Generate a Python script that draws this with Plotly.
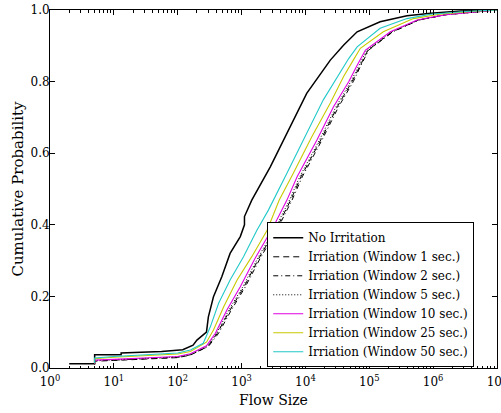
import plotly.graph_objects as go

# ---- data (flow size in bytes, cumulative probability) ----
size_none = [2, 5, 5, 13, 13, 56, 120, 174, 200, 282, 302, 363, 490, 661, 955, 1110, 1110,
             1445, 2818, 5129, 10471, 24547, 39811, 64565, 147911, 389045, 912011, 2691535, 10000000]
prob_none = [0.012, 0.012, 0.037, 0.037, 0.042, 0.046, 0.051, 0.064, 0.078, 0.100, 0.143, 0.199, 0.255,
             0.320, 0.367, 0.400, 0.423, 0.469, 0.562, 0.655, 0.767, 0.860, 0.902, 0.939, 0.967,
             0.984, 0.991, 0.997, 1.000]

size_w1 = [5, 5, 10, 32, 100, 158, 295, 417, 661, 1096, 1862, 3631, 4898, 5888, 8511, 17378, 31623,
           53703, 70795, 95499, 229087, 588844, 1584893, 5011872, 10000000]
prob_w1 = [0.010, 0.019, 0.021, 0.024, 0.029, 0.036, 0.060, 0.097, 0.162, 0.227, 0.306, 0.395, 0.441,
           0.469, 0.534, 0.637, 0.730, 0.800, 0.842, 0.888, 0.939, 0.972, 0.987, 0.996, 1.000]

size_w2 = [5, 5, 10, 32, 100, 158, 302, 437, 692, 1148, 1950, 3802, 5129, 6166, 8913, 18197, 33113,
           56234, 72444, 97724, 234423, 602560, 1622000, 5011872, 10000000]
prob_w2 = [0.011, 0.020, 0.022, 0.025, 0.030, 0.037, 0.060, 0.097, 0.162, 0.227, 0.306, 0.395, 0.441,
           0.469, 0.534, 0.637, 0.730, 0.800, 0.842, 0.888, 0.939, 0.972, 0.987, 0.996, 1.000]

size_w5 = [5, 5, 10, 32, 100, 158, 288, 407, 631, 1047, 1778, 3467, 4677, 5623, 8128, 16596, 30200,
           51286, 67608, 91201, 223872, 575440, 1584893, 5011872, 10000000]
prob_w5 = [0.011, 0.021, 0.023, 0.026, 0.031, 0.038, 0.062, 0.097, 0.162, 0.227, 0.306, 0.395, 0.441,
           0.469, 0.534, 0.637, 0.730, 0.800, 0.842, 0.888, 0.939, 0.972, 0.987, 0.996, 1.000]

size_w10 = [5, 5, 10, 32, 100, 158, 282, 389, 589, 955, 1622, 3162, 4266, 5129, 7413, 15136, 27542,
            47863, 63096, 87096, 213796, 562341, 1584893, 5011872, 10000000]
prob_w10 = [0.012, 0.022, 0.024, 0.027, 0.032, 0.040, 0.062, 0.097, 0.162, 0.227, 0.306, 0.395, 0.441,
            0.469, 0.534, 0.637, 0.730, 0.800, 0.842, 0.888, 0.939, 0.972, 0.987, 0.996, 1.000]

size_w25 = [5, 5, 10, 32, 100, 158, 282, 363, 525, 851, 1445, 2512, 3388, 3890, 6457, 12589, 24547,
            39811, 56234, 72444, 165959, 489779, 1258925, 3981072, 10000000]
prob_w25 = [0.013, 0.026, 0.030, 0.034, 0.039, 0.046, 0.072, 0.106, 0.171, 0.246, 0.311, 0.385, 0.441,
            0.469, 0.544, 0.646, 0.740, 0.815, 0.860, 0.893, 0.939, 0.976, 0.988, 0.996, 1.000]

size_w50 = [5, 5, 10, 32, 100, 158, 251, 324, 437, 661, 1072, 1738, 2630, 5129, 10471, 19055, 47863,
            64565, 147911, 389045, 912011, 3162278, 10000000]
prob_w50 = [0.014, 0.028, 0.032, 0.036, 0.042, 0.050, 0.069, 0.115, 0.181, 0.246, 0.311, 0.385, 0.441,
            0.544, 0.655, 0.749, 0.865, 0.897, 0.949, 0.976, 0.988, 0.996, 1.000]

names = ["No Irritation", "Irriation (Window 1 sec.)", "Irriation (Window 2 sec.)",
         "Irriation (Window 5 sec.)", "Irriation (Window 10 sec.)", "Irriation (Window 25 sec.)",
         "Irriation (Window 50 sec.)"]

x_tick_vals = [1, 10, 100, 1000, 10000, 100000, 1000000, 10000000]
x_tick_text = ["10<sup>0</sup>", "10<sup>1</sup>", "10<sup>2</sup>", "10<sup>3</sup>",
               "10<sup>4</sup>", "10<sup>5</sup>", "10<sup>6</sup>", "10<sup>7</sup>"]
y_tick_vals = [0, 0.2, 0.4, 0.6, 0.8, 1.0]
y_tick_text = ["0.0", "0.2", "0.4", "0.6", "0.8", "1.0"]

# ---- styles ----
styles = [
    dict(color="black", dash="solid", width=1.5),
    dict(color="black", dash="6px,4px", width=1.0),
    dict(color="black", dash="5px,3px,1px,3px", width=1.0),
    dict(color="black", dash="1px,2px", width=1.0),
    dict(color="#e000e0", dash="solid", width=1.1),
    dict(color="#c8c800", dash="solid", width=1.1),
    dict(color="#20c8c8", dash="solid", width=1.1),
]
data = [(size_none, prob_none), (size_w1, prob_w1), (size_w2, prob_w2), (size_w5, prob_w5),
        (size_w10, prob_w10), (size_w25, prob_w25), (size_w50, prob_w50)]

fig = go.Figure()
for name, (xs, ys), st in zip(names, data, styles):
    fig.add_trace(go.Scatter(x=xs, y=ys, mode="lines", name=name, line=st))

# invisible carrier trace so the top (mirrored) axis with minor ticks is drawn
fig.add_trace(go.Scatter(x=size_none, y=prob_none, mode="lines", xaxis="x2",
                         line=dict(width=0, color="rgba(0,0,0,0)"),
                         showlegend=False, hoverinfo="skip"))

minor_vals = [m * 10 ** e for e in range(0, 7) for m in range(2, 10)]

fig.update_layout(
    width=501, height=413,
    margin=dict(l=50, r=4, t=10, b=45, autoexpand=False),
    paper_bgcolor="white", plot_bgcolor="white",
    font=dict(family="DejaVu Serif", size=12, color="black"),
    showlegend=True,
    legend=dict(
        x=0.486, y=0.002, xanchor="left", yanchor="bottom",
        bgcolor="white", bordercolor="black", borderwidth=1,
        font=dict(family="DejaVu Serif", size=12, color="black"),
        itemwidth=30,
    ),
    xaxis2=dict(
        type="log", range=[0, 7], overlaying="x", side="top", automargin=False,
        tickvals=x_tick_vals, showticklabels=False,
        ticks="inside", ticklen=5, tickcolor="black",
        showline=False, showgrid=False, zeroline=False,
        minor=dict(ticks="inside", ticklen=2.5, tickcolor="black", tickvals=minor_vals, showgrid=False),
    ),
)
fig.layout.xaxis.update(
    type="log", range=[0, 7], automargin=False,
    tickvals=x_tick_vals, ticktext=x_tick_text,
    ticks="inside", ticklen=5, tickcolor="black",
    showline=True, linecolor="black", linewidth=1, mirror=True,
    showgrid=False, zeroline=False,
    minor=dict(ticks="inside", ticklen=2.5, tickcolor="black", tickvals=minor_vals, showgrid=False),
    tickfont=dict(size=12),
    ticklabeloverflow="allow",
    ticklabelstandoff=3,
    title=dict(text="Flow Size", font=dict(size=14), standoff=6),
)
fig.layout.yaxis.update(
    range=[0, 1], tickvals=y_tick_vals, ticktext=y_tick_text, automargin=False,
    ticks="inside", ticklen=5, tickcolor="black",
    showline=True, linecolor="black", linewidth=1, mirror="ticks",
    showgrid=False, zeroline=False,
    tickfont=dict(size=12),
    ticklabelstandoff=-3,
    title=dict(text="Cumulative Probability", font=dict(size=15), standoff=3),
)

fig.write_html("out.html")
